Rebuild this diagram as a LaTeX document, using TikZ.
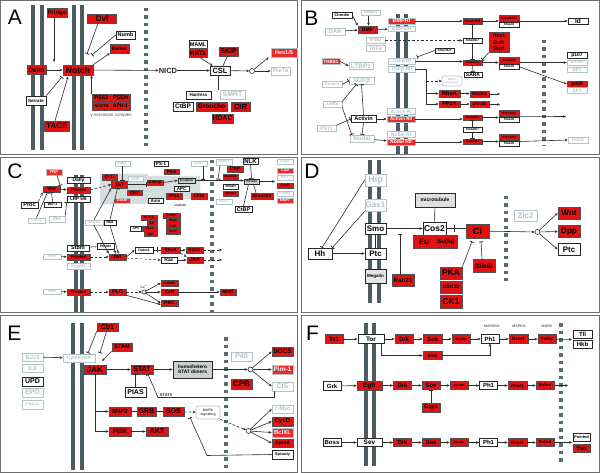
\documentclass[tikz,border=0pt]{standalone}
\usepackage{fontspec}
\setmainfont{Liberation Sans}
\usetikzlibrary{arrows.meta}
\definecolor{redc}{RGB}{226,18,18}
\definecolor{redl}{RGB}{234,42,42}
\definecolor{bdc}{RGB}{80,80,80}
\definecolor{dkc}{RGB}{40,40,40}
\definecolor{ltc}{RGB}{178,196,198}
\definecolor{memc}{RGB}{76,92,96}
\definecolor{nucc}{RGB}{90,108,112}
\definecolor{cc}{RGB}{45,45,45}
\definecolor{grf}{RGB}{200,208,208}
\definecolor{shd}{RGB}{214,221,222}
\definecolor{frm}{RGB}{110,110,110}
\newcommand\bx[6]{\node[#1,minimum width=#4pt,minimum height=#5pt] (#2) at (#3) {#6};}
\tikzset{
 fs/.style={font=\bfseries\fontsize{#1}{#1}\selectfont},
 box/.style={draw, inner sep=0.3pt, line width=0.6pt, align=center},
 rd/.style={box, fill=redc, draw=bdc, text=black},
 rdw/.style={box, fill=redl, draw=ltc, text=white},
 wh/.style={box, fill=white, draw=dkc, text=black},
 lt/.style={box, fill=white, draw=ltc, text=ltc},
 gb/.style={box, fill=grf, draw=dkc, text=black},
 rnd/.style={rounded corners=2.5pt},
 txt/.style={inner sep=0pt},
 con/.style={draw=cc, line width=0.6pt},
 ar/.style={con, -{Stealth[length=3pt,width=2.6pt]}},
 inh/.style={con, -{Bar[width=4.5pt,line width=0.8pt]}},
 dsh/.style={dash pattern=on 2.5pt off 2pt},
 memb/.style={fill=memc},
 nuc/.style={draw=nucc, line width=3.5pt, dash pattern=on 3.5pt off 4pt},
 hub/.style={circle, draw=cc, fill=white, line width=0.6pt, inner sep=0pt, minimum size=5pt},
 panel/.style={draw=frm, line width=1pt},
 letter/.style={inner sep=0pt, font=\fontsize{21}{21}\selectfont},
}
\begin{document}
\begin{tikzpicture}[x=1pt,y=-1pt]
\useasboundingbox (0,0) rectangle (600,473);
\fill[white] (0,0) rectangle (600,473);
% panel frames
\draw[panel] (0.5,0.5) rectangle (297.5,154.5);
\draw[panel] (301.5,0.5) rectangle (599.5,154.5);
\draw[panel] (0.5,157.5) rectangle (297.5,312.5);
\draw[panel] (301.5,157.5) rectangle (599.5,312.5);
\draw[panel] (0.5,315.5) rectangle (297.5,472.5);
\draw[panel] (301.5,315.5) rectangle (599.5,472.5);
% letters
\node[letter] (labA) at (15,17.5) {A};
\node[letter] (labB) at (311.5,18.5) {B};
\node[letter] (labC) at (15,171) {C};
\node[letter] (labD) at (312,171) {D};
\node[letter] (labE) at (14.5,333.5) {E};
\node[letter] (labF) at (312.5,333.5) {F};
% membranes
\fill[memb] (31,5) rectangle (35,150); \fill[memb] (39.5,5) rectangle (43.5,150);
\fill[memb] (72,5) rectangle (76,150); \fill[memb] (80,5) rectangle (84,150);
\fill[memb] (395.5,14) rectangle (399.5,154); \fill[memb] (403.5,14) rectangle (407.5,154);
\fill[memb] (74,175) rectangle (77.5,312); \fill[memb] (80,175) rectangle (83.5,312);
\fill[memb] (368,160) rectangle (372,303); \fill[memb] (377,160) rectangle (381,303);
\fill[memb] (71,323) rectangle (75,470); \fill[memb] (80,323) rectangle (84,470);
\fill[memb] (364,323) rectangle (368,466); \fill[memb] (372,323) rectangle (376,466);
% nuclear membranes
\draw[nuc] (146,8) -- (146,149);
\draw[nuc] (544,40) -- (544,146);
\draw[nuc] (212,160) -- (212,312);
\draw[nuc] (506,196) -- (506,281);
\draw[nuc] (226,337) -- (226,470);
\draw[nuc] (561,323) -- (561,462);
% shaded scaffold region (C)
\fill[shd] (100,174) -- (148,174) -- (148,176) -- (200,176) -- (200,199) -- (148,199) -- (148,204) -- (100,204) -- cycle;

%%%%%%%% PANEL A
\bx{rd,fs=6}{fringe}{57,12.5}{20}{9}{Fringe}
\bx{rd,fs=8}{dvl}{102,18.5}{29}{9}{Dvl}
\bx{wh,fs=5.5}{numb}{125.5,35}{19}{8}{Numb}
\bx{rd,fs=5}{deltex}{119.5,48.5}{19}{9}{Deltex}
\bx{rd,fs=6.5}{delta}{36.5,70}{19}{9}{Delta}
\bx{rd,fs=8.5}{notch}{78,70}{30}{10}{Notch}
\bx{wh,fs=4.5}{serrate}{36,100.5}{20}{9}{Serrate}
\bx{rd,fs=8}{tace}{57,126}{25}{10}{TACE}
\bx{rd,fs=5.5}{pse2}{101.5,98}{19}{8}{PSE2}
\bx{rd,fs=5.5}{psen}{120.5,98}{19}{8}{PSEN}
\bx{rd,fs=4}{ncstn}{101.5,106}{19}{8}{NCSTN}
\bx{rd,fs=5}{aph}{120.5,106}{19}{8}{APH-1}
\node[txt,font=\fontsize{4.5}{4.5}\selectfont,text=black!65] (gsec) at (111,115.5) {γ-secretase complex};
\node[txt,fs=7.5,text=dkc] (nicd) at (168,70.5) {NICD};
\bx{wh,fs=5.5}{maml}{198,44.5}{18}{8.5}{MAML}
\bx{rd,fs=6.5}{hats}{198,53}{18}{8.5}{HATs}
\bx{rd,fs=7}{skip}{228.5,51.5}{19}{9}{SKIP}
\bx{wh,fs=7.5}{csl}{220,70.5}{20}{9}{CSL}
\node[hub] (cA) at (252,71) {};
\bx{rdw,fs=5.5}{hes}{284,52.5}{26}{9}{Hes1/5}
\bx{lt,fs=5.5}{pret}{280.5,71}{19}{8}{PreTα}
\bx{wh,fs=4.5}{hairless}{198.5,95}{25}{8}{Hairless}
\bx{lt,fs=7}{smrt}{232.5,94.5}{25}{9}{SMRT}
\bx{wh,fs=6.5}{ctbp}{183,106.5}{20}{9}{CtBP}
\bx{rd,fs=6.5}{groucho}{211.5,106.5}{31}{9}{Groucho}
\bx{rd,fs=7.5}{cir}{240.5,106.5}{19}{9}{CIR}
\bx{rd,fs=7}{hdac}{222.5,118.5}{21}{9}{HDAC}
\coordinate (aF) at (54,62);
\coordinate (aDv) at (87,54);
\coordinate (aNb) at (92,55);
\coordinate (aSr) at (62,77);
\coordinate (aTc) at (68,76.5);
\coordinate (aCo) at (218,90);
\draw[ar] ([xshift=-3pt]fringe.south) -- (aF);
\draw[inh] ([xshift=-4pt]dvl.south) -- (aDv);
\draw[inh] (numb.west) -- (aNb);
\draw[ar] (notch.north east) -- (deltex.south west);
\draw[ar] (delta) -- (notch);
\draw[inh] (serrate.north east) -- (aSr);
\draw[ar] ([xshift=-2pt]tace.north) -- (aTc);
\draw[ar] ([xshift=-10pt]pse2.north) -- ([xshift=-10pt]pse2.north |- notch.south);
\draw[ar] (notch) -- (nicd);
\draw[ar] (nicd) -- (csl);
\draw[ar] ([xshift=2pt]hats.south) -- ([xshift=3pt]csl.north west);
\draw[con] ([xshift=-1pt]skip.south) -- ([xshift=3pt]csl.north);
\draw[inh] (aCo) -- (aCo |- csl.south);
\draw[ar] (csl) -- (cA);
\draw[ar] (cA) -- ([xshift=-2pt]hes.south west);
\draw[ar] (cA) -- (pret);

%%%%%%%% PANEL B
\bx{wh,fs=3.8}{chordin}{342,15.5}{20}{5.5}{Chordin}
\bx{lt,fs=3.8}{noggin}{370.5,13}{19}{5.5}{Noggin}
\bx{lt,fs=6}{dan}{335,31.5}{20}{7}{DAN}
\bx{rd,fs=5}{bmp}{367.5,29.5}{19}{7}{BMP}
\bx{rdw,fs=5.5}{bmpri}{401.5,21}{27}{6}{BMPRI}
\bx{lt,fs=5.5}{bmprii}{401.5,29}{27}{5.5}{BMPRII}
\bx{lt,fs=5}{ifng}{375.5,40.5}{19}{5.5}{IFNγ}
\bx{lt,fs=5}{tnfa}{375.5,48.5}{19}{5.5}{TNFα}
\bx{rdw,fs=4.5}{thbs1}{331,61.5}{18}{5.5}{THBS1}
\bx{lt,fs=6.5}{ltbp1}{361,66}{24}{7}{LTBP1}
\bx{lt,fs=5}{tgfbri}{401.5,61.5}{27}{5.5}{TGFβ RI}
\bx{lt,fs=5}{tgfbrii}{401.5,69.5}{27}{5.5}{TGFβ RII}
\bx{lt,fs=3.8}{decorin}{332,84.5}{20}{5.5}{Decorin}
\bx{lt,fs=6.5}{tgfb}{361.5,80.5}{25}{7}{TGFβ}
\bx{lt,fs=5}{lefty}{332.5,104.5}{19}{5.5}{Lefty}
\bx{wh,fs=5.5}{activin}{363.5,119}{25}{6.5}{Activin}
\bx{lt,fs=5}{pst1}{326.5,128.5}{19}{5.5}{PST1}
\bx{lt,fs=6}{nodal}{362,138.5}{24}{7}{Nodal}
\bx{lt,fs=4.5}{actri}{401,111.5}{28}{5.5}{Activin RI}
\bx{rdw,fs=4.5}{actrii}{401,119}{28}{6}{Activin RII}
\bx{lt,fs=5}{nodalri}{401,134.5}{28}{5.5}{Nodal RI}
\bx{rdw,fs=5}{nodalrii}{401,142}{28}{6}{Nodal RII}
\bx{rd,fs=3.2}{smad158}{472.5,21}{19}{6}{Smad1/5/8}
\bx{rd,fs=3.2}{pair1a}{509,18}{20}{6}{Smad1/5/8}
\bx{wh,fs=3.2}{pair1b}{509,24.5}{20}{5}{Smad4}
\bx{wh,fs=6.5}{id}{578,21}{20}{6}{Id}
\bx{wh,fs=3.2}{smad67a}{472.5,40.5}{19}{5}{Smad6/7}
\bx{wh,fs=3.2}{smurf}{444.5,50.5}{19}{5}{Smurf1/2}
\bx{rd,fs=5}{rbx1}{499,36}{20}{6.5}{Rbx1}
\bx{rd,fs=5}{cul1}{499,42.5}{20}{6.5}{Cul1}
\bx{rd,fs=5}{skp1}{499,49}{20}{6.5}{Skp1}
\bx{rd,fs=3.2}{smad23a}{472.5,62.5}{19}{5}{Smad2/3}
\bx{rd,fs=3.2}{pair2a}{509,60}{20}{6}{Smad2/3}
\bx{wh,fs=3.2}{pair2b}{509,66.75}{20}{5.5}{Smad4}
\bx{wh,fs=5}{sara}{473,74.5}{18}{5}{SARA}
\bx{lt,rnd,fs=2.8}{mapkB}{452,81}{20}{10}{MAPK\\signaling}
\bx{rd,fs=5.5}{rhoa}{449.5,93.5}{21}{7}{RhoA}
\bx{rd,fs=5.5}{pp2a}{449.5,104}{21}{6}{PP2A}
\bx{rd,fs=4.2}{rock1}{479.5,94}{19}{6}{ROCK1}
\bx{rd,fs=4}{p70}{479.5,104.5}{19}{5.5}{p70s6k}
\bx{wh,fs=5}{p107}{577,55}{20}{6}{p107}
\bx{lt,fs=4}{e2f}{577,62.5}{20}{5}{E2F4/5}
\bx{lt,fs=4.5}{dp1}{577,69.5}{20}{5}{DP1}
\bx{rd,fs=5}{p300}{577,84}{20}{6}{p300}
\bx{lt,fs=5}{sp1}{577,90.5}{20}{6}{SP1}
\bx{rd,fs=3.2}{smad23b}{472.5,117.5}{19}{5}{Smad2/3}
\bx{rd,fs=3.2}{pair3a}{509,113}{20}{6}{Smad2/3}
\bx{wh,fs=3.2}{pair3b}{509,119.75}{20}{5.5}{Smad4}
\bx{wh,fs=3.2}{smad67b}{472.5,129.5}{19}{5}{Smad6/7}
\bx{rd,fs=3.2}{smad23c}{472.5,141.5}{19}{5}{Smad2/3}
\bx{rd,fs=3.2}{pair4a}{509,137}{20}{6}{Smad2/3}
\bx{wh,fs=3.2}{pair4b}{509,143.75}{20}{5.5}{Smad4}
\bx{lt,fs=5}{pitx2}{578,140}{20}{6}{Pitx2}
\coordinate (aSm) at (417,57);
\coordinate (aBr) at (426,104);
\coordinate (aRk) at (500,94);
\coordinate (aP7) at (500,104.5);
\coordinate (aAc) at (566,116.5);
\draw[ar] (chordin.east) -- (bmp.north west);
\draw[ar] ([xshift=-2pt]noggin.south) -- ([xshift=1pt]bmp.north);
\draw[ar] (dan) -- (bmp);
\draw[ar] (bmp) -- (bmprii);
\draw[ar] (bmpri) -- (smad158);
\draw[ar] (smad158.east) -- (smad158.east -| pair1a.west);
\draw[ar] (pair1a.east |- smad158.east) -- (id);
\draw[inh] (smad67a) -- (smad158);
\draw[inh] (smad67a) -- (smad23a);
\draw[ar,dsh] (ifng.east) -- (smad67a.west);
\draw[inh] (smurf.west) -- (aSm);
\draw[ar] (tgfbri) -- (tgfbri -| smad23a.west);
\draw[inh] (skp1.south west) -- (smad23a.north east);
\draw[ar] (smad23a.east) -- (smad23a.east -| pair2a.west);
\draw[inh] (smad23a.south) -- (sara.north);
\draw[ar] (pair2a.east |- smad23a.east) -- (smad23a.east -| e2f.west);
\draw[ar] (pair2b.east) -- (p300.west);
\draw[con] (tgfbrii.east) -| (aBr);
\draw[ar] (aBr) -- (pp2a.west);
\draw[ar] (rhoa.west -| aBr) -- (rhoa.west);
\draw[ar,dsh] (mapkB.west -| aBr) -- (mapkB.west);
\draw[ar] (rhoa) -- (rhoa -| rock1.west);
\draw[ar] (pp2a) -- (pp2a -| p70.west);
\draw[ar] (rock1.east) -- (aRk);
\draw[ar] (p70.east) -- (aP7);
\draw[ar] (actrii.east) -- (actrii.east -| smad23b.west);
\draw[ar] (smad23b.east) -- (smad23b.east -| pair3a.west);
\draw[ar] (pair3b.north east) -- (aAc);
\draw[inh] (smad67b) -- (smad23b);
\draw[inh] (smad67b) -- (smad23c);
\draw[ar] (nodalrii.east) -- (nodalrii.east -| smad23c.west);
\draw[ar] (smad23c.east) -- (smad23c.east -| pair4a.west);
\draw[ar] (pair4a.east |- smad23c.east) -- (pitx2.west);
\draw[ar] (thbs1.east) -- (ltbp1.west);
\draw[inh] (decorin.east) -- (tgfb.west);
\draw[inh] (lefty.north east) -- ([xshift=-5pt]tgfb.south);
\draw[inh] (lefty.south east) -- ([xshift=2pt]nodal.north west);
\draw[inh] (pst1.north east) -- (activin.west);
\draw[inh] (activin.north) -- (tgfb.south);
\draw[inh] (activin.south) -- (nodal.north);
\draw[ar] (activin) -- (actrii);
\draw[ar] (nodal) -- (nodalrii);

%%%%%%%% PANEL C
\bx{rdw,fs=4}{frp}{54,172.5}{16}{5.5}{FRP}
\bx{rd,fs=4.5}{wnta}{51.5,189}{17}{6}{Wnt}
\bx{rd,fs=4}{fza}{78.5,190}{23}{6}{Frizzled}
\bx{wh,fs=5}{dally}{78.5,180.5}{23}{5.5}{Dally}
\bx{wh,fs=4.5}{lrp}{78.5,199}{23}{6}{LRP 5/6}
\bx{wh,fs=5.5,line width=0.9pt}{proc}{29.5,205}{17}{6}{Proc}
\bx{wh,fs=4}{wif}{52.5,204.5}{17}{5}{Wif-1}
\bx{lt,fs=4}{cer}{36.5,220.5}{17}{5}{Cer-1}
\bx{lt,fs=4.5}{dkk}{57,219}{16}{6}{Dkk}
\bx{lt,fs=4}{idax}{122.5,163.5}{15}{5}{Idax}
\bx{rd,fs=4}{ckie}{109.5,177}{15}{6}{CK1ε}
\bx{rd,fs=5}{dvlc}{119.5,184.5}{16}{7}{Dvl}
\bx{lt,fs=4}{gbp}{135.5,179}{15}{5}{GBP}
\bx{rd,fs=4.5}{cktwo}{134.5,192.5}{15}{5}{CK2}
\bx{rdw,fs=3.8}{axam}{122,200.5}{16}{5}{Axam}
\bx{rd,fs=3.8}{gsk}{155,182.5}{16}{5}{GSK3β}
\bx{wh,fs=4.5}{axin}{155.5,200.5}{15}{5}{Axin}
\bx{wh,fs=4.5}{psone}{161,163.5}{14}{5}{PS-1}
\bx{rd,fs=4.5}{pkac}{171.5,171.5}{15}{5}{PKA}
\bx{gb,fs=3}{bcat}{186.5,180.5}{17}{5}{β-catenin}
\bx{wh,fs=4.5}{apc}{181.5,188.5}{15}{5}{APC}
\bx{rd,fs=4}{pptwo}{174,196}{16}{6}{PP2A}
\bx{rd,fs=4.5}{ckia}{199,196}{16}{6}{CKIα}
\node[txt,fs=3,text=dkc] (scaf) at (180,205.5) {scaffold};
\bx{lt,fs=4}{icat}{199,163.5}{16}{5}{ICAT}
\bx{lt,fs=3.5}{duplin}{224,162}{16}{6}{Duplin}
\bx{rd,fs=5}{cbp}{235,169}{16}{6}{CBP}
\bx{rd,fs=2.8}{reptin}{230.5,177}{15}{5}{Reptin52}
\bx{wh,fs=3}{smadfour}{230.5,186.5}{15}{5}{SMAD4}
\bx{rd,fs=3}{smadthree}{230.5,193.5}{15}{5}{SMAD3}
\bx{lt,fs=3.2}{sox}{224,201.5}{16}{5}{Sox17}
\bx{wh,fs=6}{nlk}{250.5,161}{15}{6}{NLK}
\bx{gb,fs=2.8}{tcf}{251.5,181.5}{15}{5}{TCF/LEF}
\bx{rd,fs=4.5}{grouc}{262,196}{22}{6}{Groucho}
\bx{wh,fs=5.5}{ctbpc}{243.5,209.5}{17}{6.5}{CtBP}
\bx{lt,fs=3.5}{cmycC}{285,161.5}{16}{5}{c-myc}
\bx{rdw,fs=3.5}{cjun}{285,170.5}{16}{5}{c-jun}
\bx{lt,fs=3.5}{fra}{285,177.5}{16}{5}{fra-1}
\bx{rd,fs=3.5}{cycdC}{285,185.5}{16}{5}{CycD}
\bx{lt,fs=3.5}{ppard}{285,193.5}{16}{5}{PPARδ}
\bx{rdw,fs=3.5}{mmp}{285,200.5}{16}{5}{MMP7}
\bx{rd,fs=3.2}{siah}{149,217.5}{16}{5}{Siah-1}
\bx{rd,fs=3.2}{sip}{152,223}{10}{5}{SIP}
\bx{wh,fs=3.2}{apcs}{136,228.5}{11}{5}{APC}
\bx{rd,fs=3.2}{skpa}{149.5,228.5}{15}{5}{Skp1}
\bx{rd,fs=3.2}{ebi}{150.5,234}{13}{5}{Ebi}
\bx{rd,fs=3}{btrcp}{171.5,215.5}{17}{5}{β-TrCP}
\bx{rd,fs=3.2}{skpb}{173,220.8}{14}{5}{Skp1}
\bx{rd,fs=3.2}{culb}{173,226.3}{14}{5}{Cul1}
\bx{rd,fs=3.2}{rbxb}{173,231.8}{14}{5}{Rbx1}
\bx{lt,fs=3.5}{wnteleven}{94,222.5}{18}{5}{Wnt-11}
\bx{wh,fs=3.5}{nkd}{110,222.5}{12}{5}{Nkd}
\bx{wh,fs=5.5}{stbm}{78,248}{22}{6}{Stbm}
\bx{lt,fs=4}{wntb}{52,256.5}{18}{5}{Wnt}
\bx{rd,fs=4}{fzb}{78.5,257}{23}{6}{Frizzled}
\bx{lt,fs=4}{knypek}{78.5,266}{23}{6}{Knypek}
\bx{wh,fs=3.5}{prickle}{105.5,246}{17}{6}{Prickle}
\bx{rd,fs=5}{dvlb}{117.5,257}{17}{6}{Dvl}
\bx{wh,fs=3.5}{daam}{144,250}{18}{6}{Daam1}
\bx{rd,fs=4.5}{rhoac}{170.5,250}{19}{6}{RhoA}
\bx{rd,fs=4}{rock}{194.5,250}{17}{6}{ROCK}
\bx{wh,fs=5}{rac}{169,260}{16}{6}{Rac}
\bx{rd,fs=5.5}{jnk}{195,260}{16}{6}{JNK}
\bx{lt,fs=4}{wntc}{52,291.5}{18}{5}{Wnt}
\bx{rd,fs=4}{fzc}{78.5,292}{23}{6}{Frizzled}
\bx{rd,fs=5.5}{plc}{117.5,292}{17}{6}{PLC}
\node[hub,minimum size=4pt] (caC) at (144,292) {};
\node[txt,font=\fontsize{3}{3}\selectfont] (catx) at (144,286.5) {Ca\textsuperscript{2+}};
\bx{rd,fs=3.5}{camk}{169.5,283}{17}{6}{CaMKII}
\bx{rd,fs=4.5}{can}{169.5,292}{17}{6}{CaN}
\bx{rd,fs=5}{pkc}{169.5,303}{17}{6}{PKC}
\bx{rd,fs=4.5}{nfat}{228,292}{16}{6}{NFAT}
\coordinate (aIc) at (203,179.5);
\coordinate (aDu) at (218,179.5);
\coordinate (aTf) at (275,181.5);
\coordinate (aRo) at (222,250);
\coordinate (aJn) at (222,260);
\coordinate (aDa) at (157,250);
\draw[inh] ([xshift=3pt]frp.south) -- (wnta.north east);
\draw[ar,dsh] (proc.north east) -- (wnta.south west);
\draw[ar] (wnta) -- (fza);
\draw[inh] (wif.north) -- (wnta.south);
\draw[inh] (cer.north) -- ([xshift=-4pt]wnta.south);
\draw[inh] (dkk.north east) -- (lrp.south west);
\draw[ar,dsh] (fza.east) -- (dvlc.west);
\draw[inh] (idax.south) -- (idax.south |- dvlc.north);
\draw[inh] (dvlc.east) -- (dvlc.east -| gsk.west);
\draw[ar] (gsk.east) -- (bcat.west);
\draw[ar] (bcat.east) -- (bcat.east -| tcf.west);
\draw[inh] ([xshift=4pt]icat.south) -- (aIc);
\draw[inh] ([xshift=-4pt]duplin.south) -- (aDu);
\draw[inh] (nlk.south) -- (tcf.north);
\draw[con] ([xshift=-6pt]grouc.north) -- ([xshift=2pt]tcf.south);
\draw[con] (ctbpc.north) -- ([xshift=-3pt]tcf.south);
\draw[ar] (tcf.east) -- (aTf);
\draw[ar] (wnteleven.north) -- (dvlc.south west);
\draw[inh] (nkd.north) -- ([xshift=-2pt]dvlc.south);
\draw[ar] (wnteleven.south) -- (dvlb.north west);
\draw[ar] (nkd.south) -- ([xshift=1pt]dvlb.north);
\draw[con] (stbm) -- (prickle);
\draw[ar] (prickle.south east) -- ([xshift=-2pt]dvlb.north);
\draw[ar] (wntb) -- (fzb);
\draw[ar,dsh] (fzb) -- (dvlb);
\draw[ar] (dvlb.east) -- (daam.west);
\draw[con] (daam) -- (rhoac);
\draw[con] ([yshift=2.5pt]aDa) -- ([yshift=-2.5pt]aDa);
\draw[ar] (rhoac) -- (rock);
\draw[ar,dsh] (rock.east) -- (aRo);
\draw[ar,dsh] ([yshift=-1pt]dvlb.east) -- (rac.west);
\draw[ar] (rac) -- (jnk);
\draw[ar,dsh] (jnk.east) -- (aJn);
\draw[ar,dsh] (rhoac.south east) -- (jnk.north west);
\draw[ar] (wntc) -- (fzc);
\draw[ar,dsh] (fzc) -- (plc);
\draw[ar,dsh] (plc) -- (caC);
\draw[ar] (caC) -- (camk.west);
\draw[ar] (caC) -- (can.west);
\draw[ar] (caC) -- (pkc.west);
\draw[ar] (plc.south east) -- ([yshift=-1.5pt]pkc.west);
\draw[ar] (can) -- (nfat);

%%%%%%%% PANEL D
\bx{lt,fs=9}{hip}{375.5,180}{21}{12}{Hip}
\bx{lt,fs=8}{gas1}{375.5,205}{21}{12}{Gas1}
\bx{wh,fs=8}{smo}{375.5,228.5}{21}{11}{Smo}
\bx{wh,fs=8}{ptc}{375.5,253.5}{21}{11}{Ptc}
\bx{wh,fs=4.5,fill=black!10}{megalin}{375.5,276.5}{21}{14}{Megalin}
\bx{wh,fs=8}{hh}{320,253.5}{24}{11}{Hh}
\bx{wh,fs=5,fill=black!12}{micro}{435,200}{40}{14}{microtubule}
\bx{wh,fs=8.5}{cos2}{434.5,228.5}{23}{13}{Cos2}
\bx{rd,fs=8}{fu}{424,241.5}{22}{13}{Fu}
\bx{rd,fs=6}{sufu}{446,241.5}{22}{13}{Su(fu)}
\bx{rd,fs=9}{ci}{477.5,231}{23}{14}{Ci}
\bx{rd,fs=6}{rab23}{403,280}{22}{12}{Rab23}
\bx{rd,fs=8.5}{pkaD}{451,273}{22}{12}{PKA}
\bx{rd,fs=5}{gsk3b}{451,287}{22}{12}{GSK3b}
\bx{rd,fs=8.5}{ck1}{451,301.5}{22}{13}{CK1}
\bx{rd,fs=6.5}{slimb}{484,266}{22}{13}{Slimb}
\bx{lt,fs=8}{zic2}{525.5,216}{23}{11}{Zic2}
\node[hub] (circD) at (537.5,232) {};
\bx{rd,fs=8}{wntD}{569,213}{22}{12}{Wnt}
\bx{rd,fs=8}{dpp}{569,231.5}{22}{12}{Dpp}
\bx{wh,fs=8}{ptcD}{569,249.5}{22}{12}{Ptc}
\coordinate (aRb) at (400,234);
\coordinate (aCb) at (454,228.5);
\coordinate (aPk) at (472,241.5);
\coordinate (aSl) at (481,241.5);
\draw[inh] (hip.west) -- ([xshift=2pt]hh.north);
\draw[inh] (gas1.south west) -- (hh.north east);
\draw[ar] (hh) -- (ptc);
\draw[inh] (ptc.north) -- (smo.south);
\draw[ar] (smo) -- (cos2);
\draw[inh] ([xshift=-3pt]rab23.north) -- (aRb);
\draw[con] (micro) -- (cos2);
\draw[con] (cos2.east) -- (cos2.east -| ci.west);
\draw[con] ([yshift=3.5pt]aCb) -- ([yshift=-3.5pt]aCb);
\draw[inh] (pkaD.north east) -- (aPk);
\draw[inh] ([xshift=-2pt]slimb.north) -- (aSl);
\draw[ar] (ci) -- (circD);
\draw[ar] (circD) -- (wntD.west);
\draw[ar] (circD) -- (dpp.west);
\draw[ar] (circD) -- (ptcD.west);

%%%%%%%% PANEL E
\bx{rd,fs=7}{cb1}{107.5,327}{21}{8}{Cb1}
\bx{rd,fs=5.5}{stam}{122,347}{20}{8}{STAM}
\bx{lt,fs=4.8}{cytr}{79,358}{32}{8}{CytokineR}
\bx{lt,fs=6}{il23}{32.5,357}{21}{8}{IL2/3}
\bx{lt,fs=6}{il6}{32.5,368}{21}{8}{IL6}
\bx{wh,fs=7,line width=0.9pt}{upd}{32.5,381.5}{21}{9}{UPD}
\bx{lt,fs=7}{epo}{32.5,392.5}{21}{9}{EPO}
\bx{lt,fs=3.5}{ifn}{32.5,404.5}{21}{9}{IFN/IL10}
\bx{rd,fs=8}{jak}{95,369.5}{22}{9}{JAK}
\bx{rd,fs=7}{stat}{142,369.5}{22}{9}{STAT}
\bx{gb,fs=4.8}{dimers}{192.5,369.5}{39}{17}{homo/hetero\\STAT dimers}
\bx{wh,fs=7}{pias}{135.5,392}{21}{10}{PIAS}
\node[txt,fs=4,text=dkc] (stat5) at (166,395) {STAT5};
\bx{lt,fs=7}{p48}{241.5,356.5}{21}{9}{P48}
\bx{rd,fs=8}{cpb}{241.5,384}{21}{10}{CPB}
\bx{rd,fs=6.5}{socs}{282.5,351.5}{21}{9}{SOCS}
\bx{rdw,fs=6.5}{pim1}{282.5,369.5}{21}{9}{Pim-1}
\bx{lt,fs=7}{cis}{282.5,386.5}{21}{9}{CIS}
\bx{rd,fs=6}{shp2}{120,411.5}{22}{9}{SHP2}
\bx{rd,fs=7}{grb}{146.5,411.5}{19}{9}{GRB}
\bx{rd,fs=7}{sos}{173.5,411.5}{21}{9}{SOS}
\bx{lt,rnd,fs=3.5,text=black!70}{mapkE}{208,412.5}{24}{13}{MAPK\\signaling}
\bx{rd,fs=6.5}{pi3k}{120,431.5}{22}{9}{PI3K}
\bx{rd,fs=7}{akt}{157,431.5}{22}{9}{AKT}
\bx{lt,fs=5.5}{cmycE}{282.5,409}{21}{8}{c-Myc}
\bx{rd,fs=6}{cycdE}{282.5,421.5}{21}{9}{CycD}
\bx{rdw,fs=6}{bclxl}{282.5,432.5}{21}{9}{BclXL}
\bx{rd,fs=5}{spred}{282.5,443}{21}{8}{Spred}
\bx{wh,fs=4}{sprouty}{282.5,454.5}{21}{9}{Sprouty}
\node[hub] (circE1) at (250.5,369.5) {};
\node[hub] (circE2) at (248.5,431) {};
\coordinate (aCb1) at (88,353);
\coordinate (aCb2) at (100,353);
\coordinate (aSt) at (102,361);
\coordinate (aS5) at (158,397.5);
\coordinate (aSp) at (207,455.5);
\coordinate (aSp2) at (190,417.5);
\draw[ar] (il23) -- (cytr);
\draw[inh] (cb1.south west) -- (aCb1);
\draw[inh] ([xshift=-1pt]cb1.south) -- (aCb2);
\draw[ar] (stam.south west) -- (aSt);
\draw[ar] (jak) -- (stat);
\draw[ar] (stat) -- (dimers);
\draw[ar] (dimers) -- (circE1);
\draw[ar] (circE1) -- (socs.west);
\draw[ar] (circE1) -- (pim1.west);
\draw[ar] (circE1) -- (cis.west);
\draw[inh] (pias.north) -- (pias.north |- stat.south);
\draw[inh] ([xshift=-8pt]cis.south) |- (aS5) -- ([xshift=6pt]stat.south);
\draw[con] (jak.south) -- (jak.south |- pi3k.west);
\draw[ar] (jak.south |- shp2.west) -- (shp2.west);
\draw[ar] (jak.south |- pi3k.west) -- (pi3k.west);
\draw[con] (shp2) -- (grb);
\draw[con] (grb) -- (sos);
\draw[ar,dsh] (sos) -- (mapkE);
\draw[ar] (pi3k) -- (akt);
\draw[ar,dsh] (mapkE.south east) -- (circE2);
\draw[ar] (circE2) -- (cmycE.west);
\draw[ar] (circE2) -- (cycdE.west);
\draw[ar] (circE2) -- (bclxl.west);
\draw[ar] (circE2) -- (spred.west);
\draw[inh] (sprouty.west) -- (aSp) -- (aSp2);

%%%%%%%% PANEL F
\node[txt,fs=3.6,text=black!60] (mkkk) at (492,326) {MAPKKK};
\node[txt,fs=3.6,text=black!60] (mkk) at (519,326) {MAPKK};
\node[txt,fs=3.6,text=black!60] (mk) at (547,326) {MAPK};
\bx{rd,fs=6}{tsone}{334,339}{18}{8.5}{Ts1}
\bx{wh,fs=6.5}{tor}{371,339}{26}{8.5}{Tor}
\bx{rd,fs=6}{drka}{404,339}{18}{8.5}{Drk}
\bx{rd,fs=6}{sosa}{432.5,339}{19}{8.5}{Sos}
\bx{rd,fs=3}{rasa}{461,339}{18}{8.5}{Ras85D}
\bx{wh,fs=6}{pha}{490,339}{18}{8.5}{Ph1}
\bx{rd,fs=4.5}{dsora}{518.5,339}{19}{8.5}{Dsor1}
\bx{rd,fs=4}{rolleda}{547,339}{18}{8.5}{Rolled}
\bx{rd,fs=4.5}{csw}{432.5,355.5}{19}{8.5}{Csw}
\bx{wh,fs=6}{tll}{582.5,334.5}{19}{7.5}{Tll}
\bx{wh,fs=6}{hkb}{582.5,344.5}{19}{7.5}{Hkb}
\bx{wh,fs=6}{grk}{332,386}{18}{8.5}{Grk}
\bx{rd,fs=6.5}{egfr}{369.5,385.5}{25}{9}{Egfr}
\bx{rd,fs=6}{drkb}{402.5,385.5}{18}{8.5}{Drk}
\bx{rd,fs=6}{sosb}{431,385.5}{18}{8.5}{Sos}
\bx{rd,fs=3}{rasb}{459,385.5}{18}{8.5}{Ras85D}
\bx{wh,fs=6}{phb}{488.5,385.5}{18}{8.5}{Ph1}
\bx{rd,fs=4.5}{dsorb}{517.5,385.5}{19}{8.5}{Dsor1}
\bx{rd,fs=4}{rolledb}{545,385.5}{18}{8.5}{Rolled}
\bx{rd,fs=5.5}{gap1}{431,407.5}{18}{9}{Gap1}
\bx{wh,fs=6}{boss}{332,442.5}{18}{8.5}{Boss}
\bx{wh,fs=6.5}{sev}{369.5,442.5}{25}{8.5}{Sev}
\bx{rd,fs=6}{drkc}{402.5,442.5}{18}{8.5}{Drk}
\bx{rd,fs=6}{sosc}{431,442.5}{18}{8.5}{Sos}
\bx{rd,fs=3}{rasc}{459,442.5}{18}{8.5}{Ras85D}
\bx{wh,fs=6}{phc}{488.5,442.5}{18}{8.5}{Ph1}
\bx{rd,fs=4.5}{dsorc}{517.5,442.5}{19}{8.5}{Dsor1}
\bx{rd,fs=4}{rolledc}{545,442.5}{18}{8.5}{Rolled}
\bx{wh,fs=4}{pointed}{581.5,437.5}{17}{8}{Pointed}
\bx{rd,fs=6}{yan}{581.5,448}{17}{8}{Yan}
\coordinate (aRa) at (572,339.5);
\coordinate (aRb2) at (568,385.5);
\coordinate (aRc) at (572,442.5);
\draw[ar] (tsone) -- (tor);
\draw[ar] (tor) -- (drka);
\draw[ar] (drka) -- (sosa);
\draw[ar] (sosa) -- (rasa);
\draw[ar] (rasa) -- (pha);
\draw[ar] (pha) -- (dsora);
\draw[ar] (dsora) -- (rolleda);
\draw[ar] (rolleda) -- (aRa);
\draw[ar] ([xshift=10pt]tor.south) |- (csw.west);
\draw[ar] (csw.east) -| (pha.south);
\draw[ar] (grk) -- (egfr);
\draw[ar] (egfr) -- (drkb);
\draw[ar] (drkb) -- (sosb);
\draw[ar] (sosb) -- (rasb);
\draw[ar] (rasb) -- (phb);
\draw[ar] (phb) -- (dsorb);
\draw[ar] (dsorb) -- (rolledb);
\draw[ar] (rolledb) -- (aRb2);
\draw[inh] (gap1) -- (sosb);
\draw[ar] (boss) -- (sev);
\draw[ar] (sev) -- (drkc);
\draw[ar] (drkc) -- (sosc);
\draw[ar] (sosc) -- (rasc);
\draw[ar] (rasc) -- (phc);
\draw[ar] (phc) -- (dsorc);
\draw[ar] (dsorc) -- (rolledc);
\draw[ar] (rolledc) -- (aRc);
\end{tikzpicture}
\end{document}
